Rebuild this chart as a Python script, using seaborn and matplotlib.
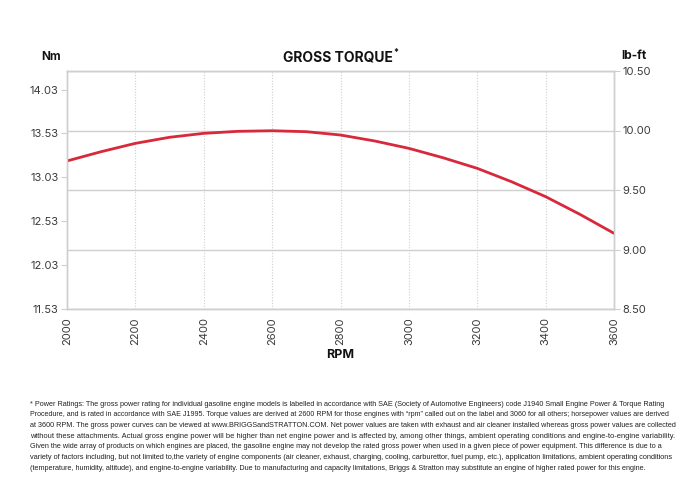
import matplotlib
matplotlib.use("Agg")
import matplotlib.pyplot as plt
import seaborn as sns
import pandas as pd

rpm = [2000, 2100, 2200, 2300, 2400, 2500, 2600, 2700, 2800, 2900, 3000, 3100, 3200, 3300, 3400, 3500, 3600]
torque_lbft = [9.744, 9.822, 9.892, 9.943, 9.976, 9.993, 9.998, 9.990, 9.962, 9.912, 9.850, 9.771, 9.682, 9.570, 9.444, 9.296, 9.136]
rpm_ticks = [2000, 2200, 2400, 2600, 2800, 3000, 3200, 3400, 3600]
nm_ticks = [11.53, 12.03, 12.53, 13.03, 13.53, 14.03]
lbft_ticks = [8.50, 9.00, 9.50, 10.00, 10.50]

footnote_lines = [
    "* Power Ratings: The gross power rating for individual gasoline engine models is labelled in accordance with SAE (Society of Automotive Engineers) code J1940 Small Engine Power & Torque Rating",
    "Procedure, and is rated in accordance with SAE J1995. Torque values are derived at 2600 RPM for those engines with \u201crpm\u201d called out on the label and 3060 for all others; horsepower values are derived",
    "at 3600 RPM. The gross power curves can be viewed at www.BRIGGSandSTRATTON.COM. Net power values are taken with exhaust and air cleaner installed whereas gross power values are collected",
    "without these attachments. Actual gross engine power will be higher than net engine power and is affected by, among other things, ambient operating conditions and engine-to-engine variability.",
    "Given the wide array of products on which engines are placed, the gasoline engine may not develop the rated gross power when used in a given piece of power equipment. This difference is due to a",
    "variety of factors including, but not limited to,the variety of engine components (air cleaner, exhaust, charging, cooling, carburettor, fuel pump, etc.), application limitations, ambient operating conditions",
    "(temperature, humidity, altitude), and engine-to-engine variability. Due to manufacturing and capacity limitations, Briggs & Stratton may substitute an engine of higher rated power for this engine.",
]

sns.set_theme(style="white")
plt.rcParams['font.family'] = ['Inter', 'DejaVu Sans']

W, H = 695, 491
fig = plt.figure(figsize=(W / 100, H / 100), dpi=100)
fig.patch.set_facecolor("white")
ax = fig.add_axes([67 / W, 1 - 309 / H, 547 / W, 238 / H])
ax2 = ax.twinx()

df = pd.DataFrame({"RPM": rpm, "Torque": torque_lbft})
sns.lineplot(data=df, x="RPM", y="Torque", ax=ax2, color="#d8283c", linewidth=2.0)

grid_c = "#cfcfcf"
ax.set_xlim(2000, 3600)
ax.set_xticks(rpm_ticks)
ax.set_xticklabels([str(t) for t in rpm_ticks], rotation=90)
ax.set_ylim(11.53, 11.53 + 2 * 1.3558)
ax.set_yticks(nm_ticks)
ax.set_yticklabels([f"{t:.2f}" for t in nm_ticks])
ax2.set_ylim(8.5, 10.5)
ax2.set_yticks(lbft_ticks)
ax2.set_yticklabels([f"{t:.2f}" for t in lbft_ticks])
for a in (ax, ax2):
    a.set_xlabel("")
    a.set_ylabel("")

ax.grid(axis="x", color=grid_c, linestyle=(0, (1, 1.5)), linewidth=0.8)
ax.grid(axis="y", visible=False)
ax2.grid(axis="y", color=grid_c, linestyle="-", linewidth=1.0)
ax2.grid(axis="x", visible=False)

for a in (ax, ax2):
    for s in a.spines.values():
        s.set_color(grid_c)
        s.set_linewidth(1.0)
    a.tick_params(colors="#3a3a3a", labelsize=8, length=4, width=0.8)
    a.tick_params(axis="both", color=grid_c)
ax.tick_params(axis="y", pad=2)
ax2.tick_params(axis="y", pad=2)
ax.tick_params(axis="x", pad=2)

renderer = fig.canvas.get_renderer()

title = fig.text(338 / W, 1 - 57 / H, "GROSS TORQUE", ha="center", va="center",
                 fontsize=10, fontweight="bold", color="#111111")
bb = title.get_window_extent(renderer=renderer)
fig.text((bb.x1 + 0.5) / W, 1 - 52 / H, "*", ha="left", va="center",
         fontsize=6.5, fontweight="bold", color="#111111")
fig.text(51 / W, 1 - 57 / H, "Nm", ha="center", va="center",
         fontsize=8.5, fontweight="bold", color="#111111")
fig.text(634 / W, 1 - 56 / H, "lb-ft", ha="center", va="center",
         fontsize=8.5, fontweight="bold", color="#111111")
fig.text(340 / W, 1 - 355 / H, "RPM", ha="center", va="center",
         fontsize=9, fontweight="bold", color="#111111")

# footnote: each full line scaled to fill the text column width
fn_font = ['Liberation Sans', 'DejaVu Sans']
x0 = 30
target_w = 645
fits = []
for line in footnote_lines:
    fs = 5.5
    for _ in range(4):
        t = fig.text(0, 0, line, fontsize=fs, family=fn_font)
        w = t.get_window_extent(renderer=renderer).width
        t.remove()
        fs = fs * target_w / w
    fits.append(fs)
common = sorted(fits)[len(fits) // 2]
y0 = 405.5
dy = 10.7
for i, line in enumerate(footnote_lines):
    yy = 1 - (y0 + i * dy) / H
    fs = min(common, fits[i]) if i == len(footnote_lines) - 1 else fits[i]
    fig.text(x0 / W, yy, line, fontsize=fs, ha="left", va="baseline",
             color="#222222", family=fn_font)

fig.savefig("out.png", dpi=100, facecolor="white")
